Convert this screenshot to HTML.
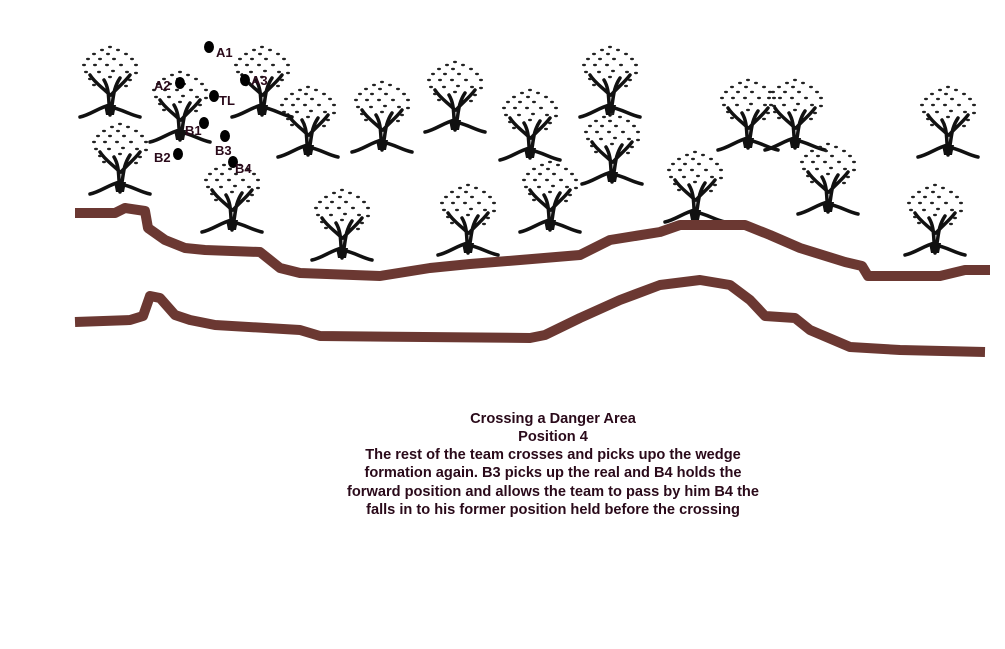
<!DOCTYPE html>
<html><head><meta charset="utf-8"><style>
html,body{margin:0;padding:0;background:#fff;}
svg{display:block}
</style></head><body>
<svg width="1005" height="649" viewBox="0 0 1005 649" xmlns="http://www.w3.org/2000/svg">
<defs>
<g id="t">
<path d="M30 70 C28 55 30 45 24 35 M30 70 C34 55 32 45 40 33 M30 60 C20 62 10 70 0 72 M30 62 C42 64 50 70 60 72 M30 50 C22 42 15 38 10 30 M31 50 C38 42 44 38 50 30" stroke="#111" stroke-width="3.5" fill="none" stroke-linecap="round"/>
<path d="M26 70 L34 70 L36 60 L24 60Z" fill="#111"/>
<g fill="#222">
<ellipse cx="30" cy="2" rx="2" ry="1.2"/><ellipse cx="22" cy="5" rx="2" ry="1.2"/><ellipse cx="38" cy="5" rx="2" ry="1.2"/>
<ellipse cx="14" cy="9" rx="2" ry="1.2"/><ellipse cx="28" cy="9" rx="2" ry="1.2"/><ellipse cx="46" cy="9" rx="2" ry="1.2"/>
<ellipse cx="8" cy="14" rx="2" ry="1.2"/><ellipse cx="20" cy="14" rx="2" ry="1.2"/><ellipse cx="34" cy="14" rx="2" ry="1.2"/><ellipse cx="52" cy="14" rx="2" ry="1.2"/>
<ellipse cx="4" cy="20" rx="2" ry="1.2"/><ellipse cx="15" cy="20" rx="2" ry="1.2"/><ellipse cx="27" cy="20" rx="2" ry="1.2"/><ellipse cx="41" cy="20" rx="2" ry="1.2"/><ellipse cx="56" cy="20" rx="2" ry="1.2"/>
<ellipse cx="6" cy="27" rx="2" ry="1.2"/><ellipse cx="19" cy="27" rx="2" ry="1.2"/><ellipse cx="33" cy="26" rx="2" ry="1.2"/><ellipse cx="47" cy="27" rx="2" ry="1.2"/><ellipse cx="56" cy="28" rx="2" ry="1.2"/>
<ellipse cx="10" cy="34" rx="2" ry="1.2"/><ellipse cx="30" cy="32" rx="2" ry="1.2"/><ellipse cx="50" cy="35" rx="2" ry="1.2"/>
<ellipse cx="14" cy="40" rx="2" ry="1.2"/><ellipse cx="46" cy="41" rx="2" ry="1.2"/>
</g>
</g>
</defs>
<g>
<use href="#t" x="80" y="45"/><use href="#t" x="150" y="70"/><use href="#t" x="232" y="45"/><use href="#t" x="278" y="85"/>
<use href="#t" x="90" y="122"/><use href="#t" x="202" y="160"/><use href="#t" x="312" y="188"/><use href="#t" x="352" y="80"/>
<use href="#t" x="425" y="60"/><use href="#t" x="500" y="88"/><use href="#t" x="580" y="45"/><use href="#t" x="582" y="112"/>
<use href="#t" x="520" y="160"/><use href="#t" x="438" y="183"/><use href="#t" x="665" y="150"/><use href="#t" x="718" y="78"/>
<use href="#t" x="765" y="78"/><use href="#t" x="798" y="142"/><use href="#t" x="918" y="85"/><use href="#t" x="905" y="183"/>
</g>
<g stroke="#6b3832" stroke-width="10" fill="none" stroke-linejoin="round">
<polyline points="75,213 115,213 125,208 145,211 148,228 165,240 185,248 205,250 260,252 280,268 300,273 380,276 430,268 470,264 520,260 580,255 610,240 660,232 680,225 745,225 770,235 800,248 845,262 862,266 868,276 940,276 965,270 990,270"/>
<polyline points="75,322 130,320 143,316 150,296 160,298 175,315 190,320 215,325 300,330 320,336 530,338 545,335 580,318 620,300 660,285 700,280 730,285 750,300 765,316 795,318 810,330 850,347 900,350 985,352"/>
</g>
<g fill="#000">
<ellipse cx="209" cy="47" rx="5" ry="6"/><ellipse cx="180" cy="83" rx="5" ry="6"/><ellipse cx="245" cy="80" rx="5" ry="6"/>
<ellipse cx="214" cy="96" rx="5" ry="6"/><ellipse cx="204" cy="123" rx="5" ry="6"/><ellipse cx="225" cy="136" rx="5" ry="6"/>
<ellipse cx="178" cy="154" rx="5" ry="6"/><ellipse cx="233" cy="162" rx="5" ry="6"/>
</g>
<g font-family="Liberation Sans, sans-serif" font-size="13" font-weight="bold" fill="#2a0a1a">
<text x="216" y="57">A1</text><text x="154" y="90">A2</text><text x="251" y="85">A3</text>
<text x="219" y="105">TL</text><text x="185" y="135">B1</text><text x="215" y="155">B3</text>
<text x="154" y="162">B2</text><text x="235" y="173">B4</text>
</g>
<g font-family="Liberation Sans, sans-serif" font-size="14.6" font-weight="bold" fill="#2a0a1a" text-anchor="middle">
<text x="553" y="423">Crossing a Danger Area</text>
<text x="553" y="441">Position 4</text>
<text x="553" y="459">The rest of the team crosses and picks upo the wedge</text>
<text x="553" y="477">formation again. B3 picks up the real and B4 holds the</text>
<text x="553" y="496">forward position and allows the team to pass by him B4 the</text>
<text x="553" y="514">falls in to his former position held before the crossing</text>
</g>
</svg>
</body></html>
